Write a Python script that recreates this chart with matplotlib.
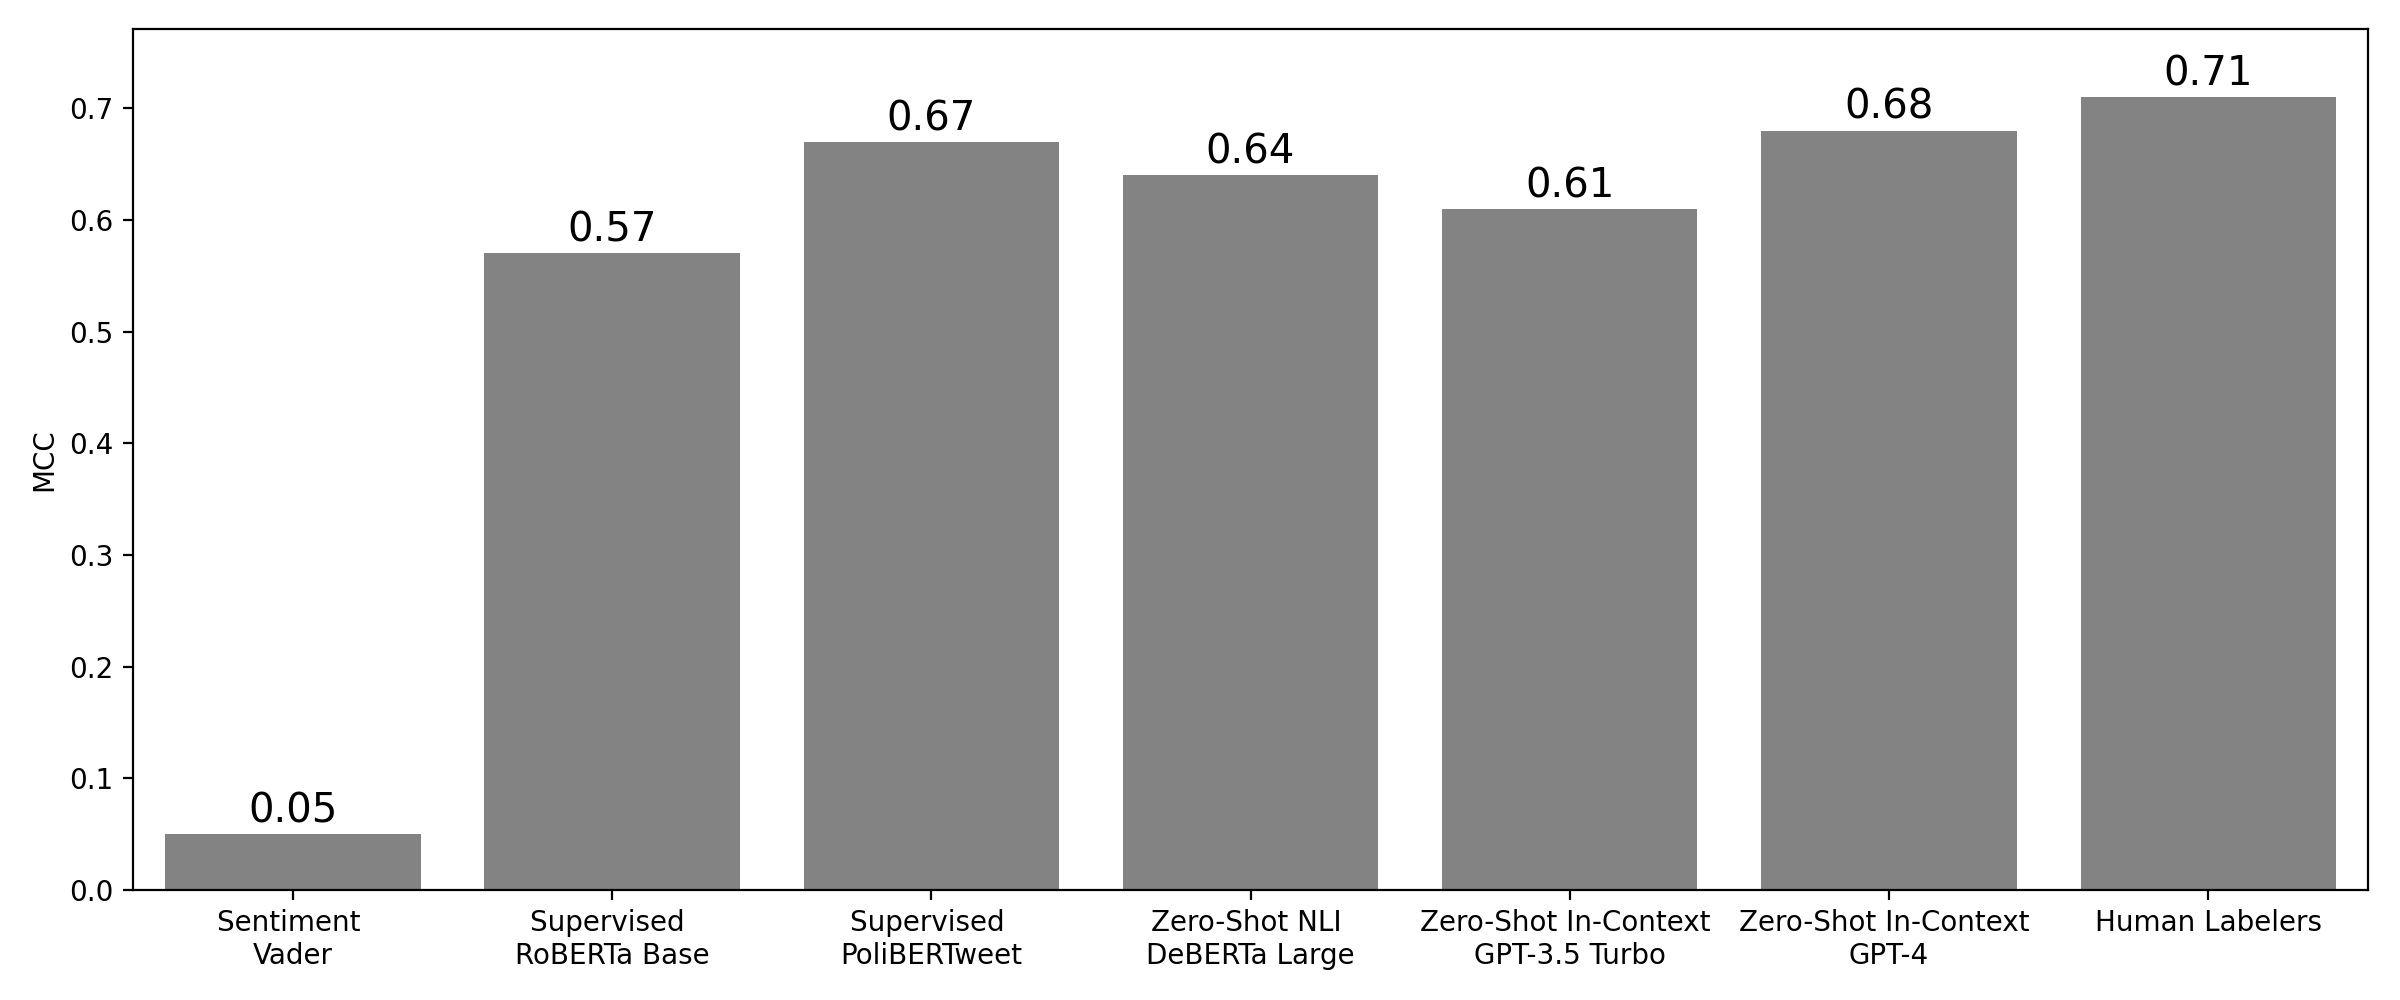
import matplotlib
matplotlib.use("Agg")
import matplotlib.pyplot as plt

# model names and their MCC scores
models = ["Sentiment \nVader", "Supervised \nRoBERTa Base", "Supervised \nPoliBERTweet",
          "Zero-Shot NLI \nDeBERTa Large", "Zero-Shot In-Context \nGPT-3.5 Turbo",
          "Zero-Shot In-Context \nGPT-4", "Human Labelers"]
mcc = [0.05, 0.57, 0.67, 0.64, 0.61, 0.68, 0.71]
yticks = [0.0, 0.1, 0.2, 0.3, 0.4, 0.5, 0.6, 0.7]

plt.rcParams['font.family'] = ['DejaVu Sans']

fig, ax = plt.subplots(figsize=(12, 5), dpi=200)
bars = ax.bar(range(len(models)), mcc, width=0.8, color="#838383")
ax.bar_label(bars, labels=[f"{v:.2f}" for v in mcc], padding=1, fontsize=14.5)

ax.set_xticks(range(len(models)))
ax.set_xticklabels(models, fontsize=10)
ax.set_yticks(yticks)
ax.set_yticklabels([f"{t:.1f}" for t in yticks], fontsize=10)
ax.set_ylabel("MCC", fontsize=10)
ax.set_xlim(-0.5, len(models) - 0.5)
ax.set_ylim(0, 0.771)

fig.subplots_adjust(left=0.0555, right=0.9866, top=0.971, bottom=0.110)
fig.savefig("out.png", dpi=200)
